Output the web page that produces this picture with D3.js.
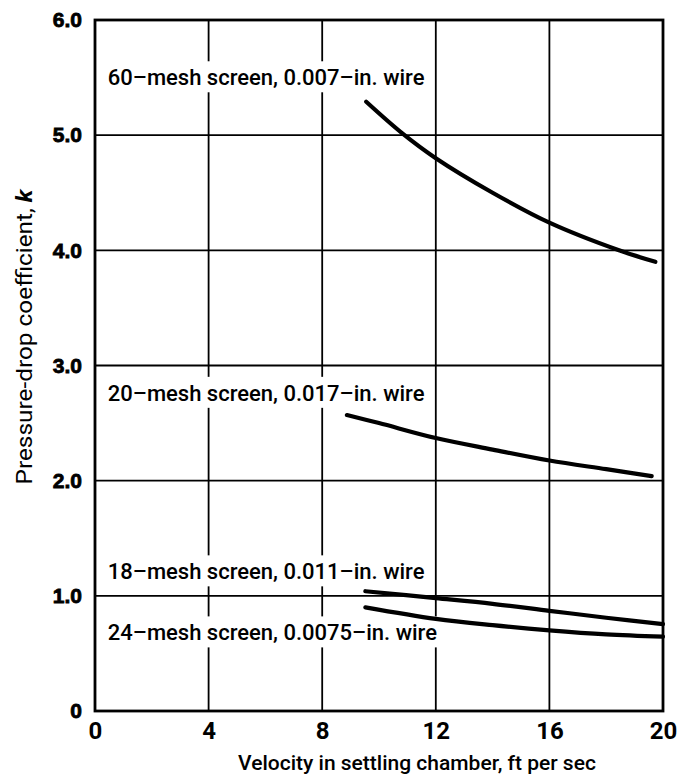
<!DOCTYPE html>
<html>
<head>
<meta charset="utf-8">
<script src="https://cdn.jsdelivr.net/npm/d3@7"></script>
<style>
  body { margin: 0; background: #fff; }
  svg { display: block; }
</style>
</head>
<body>
<svg id="chart" width="678" height="783"></svg>
<script>
// ---- data ----
const xTicks = [0, 4, 8, 12, 16, 20];
const yTicks = [0, 1, 2, 3, 4, 5, 6];
const yTickLabels = ["0", "1.0", "2.0", "3.0", "4.0", "5.0", "6.0"];

const mesh60 = [[9.55, 5.29], [10.8, 5.02], [12, 4.8], [14, 4.5], [16, 4.24], [18.45, 4.0], [19.73, 3.9]];
const mesh20 = [[8.87, 2.57], [10, 2.50], [12, 2.37], [14, 2.27], [16, 2.175], [18, 2.10], [19.6, 2.04]];
const mesh18 = [[9.52, 1.04], [12, 0.98], [14, 0.93], [16, 0.87], [18, 0.81], [20, 0.755]];
const mesh24 = [[9.52, 0.90], [12, 0.80], [14, 0.745], [16, 0.70], [18, 0.665], [20, 0.645]];

const seriesNames = [
  "60–mesh screen, 0.007–in. wire",
  "20–mesh screen, 0.017–in. wire",
  "18–mesh screen, 0.011–in. wire",
  "24–mesh screen, 0.0075–in. wire"
];
const labelPos = [[0.45, 5.5], [0.45, 2.76], [0.45, 1.21], [0.45, 0.68]];
const seriesData = [mesh60, mesh20, mesh18, mesh24];

// ---- layout ----
const svg = d3.select("#chart");
const mLeft = 95, mRight = 663, mTop = 20, mBottom = 711;
const x = d3.scaleLinear().domain([0, 20]).range([mLeft, mRight]);
const y = d3.scaleLinear().domain([0, 6]).range([mBottom, mTop]);
const FONT = "Roboto, 'Liberation Sans', sans-serif";

const g = svg.append("g");

// grid
g.selectAll("line.vg").data(xTicks.slice(1, -1)).enter().append("line")
  .attr("x1", d => x(d)).attr("x2", d => x(d))
  .attr("y1", y(0)).attr("y2", y(6))
  .attr("stroke", "#000").attr("stroke-width", 1.8);
g.selectAll("line.hg").data(yTicks.slice(1, -1)).enter().append("line")
  .attr("x1", x(0)).attr("x2", x(20))
  .attr("y1", d => y(d)).attr("y2", d => y(d))
  .attr("stroke", "#000").attr("stroke-width", 1.8);

// curve labels with white backing
const labG = g.append("g");
const labs = labG.selectAll("g.lab").data(seriesNames).enter().append("g");
labs.append("rect").attr("fill", "#fff");
labs.append("text")
  .attr("x", (d, i) => x(labelPos[i][0]))
  .attr("y", (d, i) => y(labelPos[i][1]))
  .attr("dy", "0.35em")
  .attr("font-family", FONT).attr("font-weight", 500)
  .attr("font-size", 22).attr("fill", "#000")
  .text(d => d);
labs.each(function () {
  const gg = d3.select(this);
  const b = gg.select("text").node().getBBox();
  gg.select("rect").attr("x", b.x - 4).attr("y", b.y - 4)
    .attr("width", b.width + 6).attr("height", b.height + 6);
});

// curves
const line = d3.line().x(d => x(d[0])).y(d => y(d[1])).curve(d3.curveCatmullRom.alpha(0.5));
g.selectAll("path.curve").data(seriesData).enter().append("path")
  .attr("d", line).attr("fill", "none").attr("stroke", "#000")
  .attr("stroke-width", 4.2).attr("stroke-linecap", "round");

// frame
g.append("rect").attr("x", x(0)).attr("y", y(6))
  .attr("width", x(20) - x(0)).attr("height", y(0) - y(6))
  .attr("fill", "none").attr("stroke", "#000").attr("stroke-width", 2.8);

// axes (labels only)
const xAxis = d3.axisBottom(x).tickValues(xTicks).tickSize(0).tickPadding(11).tickFormat(d3.format("d"));
const xg = svg.append("g").attr("transform", `translate(0,${mBottom})`).call(xAxis);
xg.select(".domain").remove();
xg.selectAll("text").attr("font-family", FONT)
  .attr("font-weight", "bold").attr("font-size", 24).attr("fill", "#000");

const yAxis = d3.axisLeft(y).tickValues(yTicks).tickSize(0).tickPadding(13)
  .tickFormat((d, i) => yTickLabels[i]);
const yg = svg.append("g").attr("transform", `translate(${mLeft},0)`).call(yAxis);
yg.select(".domain").remove();
yg.selectAll("text").attr("font-family", "'Liberation Sans', Arial, sans-serif")
  .attr("font-weight", "bold").attr("font-size", 21).attr("fill", "#000")
  .attr("stroke", "#000").attr("stroke-width", 0.8);

// axis titles
svg.append("text").attr("x", 417).attr("y", 770).attr("text-anchor", "middle")
  .attr("font-family", FONT).attr("font-weight", 500)
  .attr("font-size", 21).attr("fill", "#000")
  .text("Velocity in settling chamber, ft per sec");

const yt = svg.append("text").attr("transform", "translate(32,337) rotate(-90)")
  .attr("text-anchor", "middle")
  .attr("font-family", FONT)
  .attr("font-size", 22).attr("fill", "#000")
  .attr("textLength", 295).attr("lengthAdjust", "spacingAndGlyphs");
yt.append("tspan").text("Pressure-drop coefficient, ");
yt.append("tspan").attr("font-style", "italic").attr("font-weight", "bold").text("k");
</script>
</body>
</html>
